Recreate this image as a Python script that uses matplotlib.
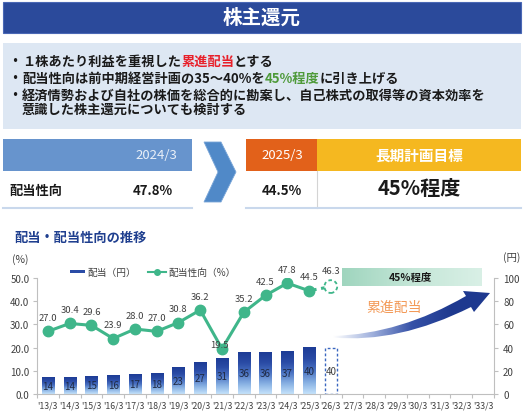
import matplotlib
matplotlib.use('Agg')
import matplotlib.pyplot as plt
import numpy as np
from matplotlib.patches import Rectangle, Polygon, PathPatch
from matplotlib.path import Path
from matplotlib.colors import LinearSegmentedColormap

plt.rcParams['font.family'] = ['Noto Sans CJK JP', 'DejaVu Sans']

# ---------------- data ----------------
years = ["'13/3", "'14/3", "'15/3", "'16/3", "'17/3", "'18/3", "'19/3", "'20/3",
         "'21/3", "'22/3", "'23/3", "'24/3", "'25/3", "'26/3", "'27/3", "'28/3",
         "'29/3", "'30/3", "'31/3", "'32/3", "'33/3"]
dividends = [14, 14, 15, 16, 17, 18, 23, 27, 31, 36, 36, 37, 40]
dividend_forecast = 40
payout = [27.0, 30.4, 29.6, 23.9, 28.0, 27.0, 30.8, 36.2, 19.5, 35.2, 42.5, 47.8, 44.5]
payout_forecast = 46.3
left_ticks = [0, 10, 20, 30, 40, 50]
right_ticks = [0, 20, 40, 60, 80, 100]

W, H = 525, 414
fig = plt.figure(figsize=(W / 100, H / 100), dpi=100)
bg = fig.add_axes([0, 0, 1, 1])
bg.set_xlim(0, W)
bg.set_ylim(H, 0)
bg.axis('off')
bg.set_zorder(0)

TXT = '#1a1a1a'
GREEN = '#3fb68a'

# title bar
bg.add_patch(Rectangle((3, 3), 518, 31, facecolor='#2b4a9b', edgecolor='#4a68b5', lw=0.8))
bg.text(262, 18.5, '株主還元', color='white', fontsize=14, fontweight='bold',
        ha='center', va='center')

# bullet box
bg.add_patch(Rectangle((3, 44), 518, 86, facecolor='#dde7f3', edgecolor='none'))

renderer = fig.canvas.get_renderer()


def seg_text(x, y, parts, size=9.5, weight='bold'):
    for s, c in parts:
        t = bg.text(x, y, s, color=c, fontsize=size, fontweight=weight,
                    ha='left', va='center')
        bb = t.get_window_extent(renderer=renderer)
        x += bb.width


bullet_lines = [
    (62, [('１株あたり利益を重視した', TXT), ('累進配当', '#e8202a'), ('とする', TXT)], True),
    (79, [('配当性向は前中期経営計画の35～40%を', TXT), ('45%程度', '#4e9a3a'),
          ('に引き上げる', TXT)], True),
    (96, [('経済情勢および自社の株価を総合的に勘案し、自己株式の取得等の資本効率を', TXT)], True),
    (110, [('意識した株主還元についても検討する', TXT)], False),
]
for y, parts, has_bullet in bullet_lines:
    if has_bullet:
        bg.text(8, y, '・', color=TXT, fontsize=9.5, fontweight='bold', ha='left', va='center')
    seg_text(22, y, parts)

# second row
bg.add_patch(Rectangle((3, 140), 189, 32, facecolor='#6794cd', edgecolor='none'))
bg.text(177, 156, '2024/3', color='#e8eff8', fontsize=9.5, ha='right', va='center')
bg.text(9, 191, '配当性向', color=TXT, fontsize=9.5, fontweight='bold', ha='left', va='center')
bg.text(173, 191, '47.8%', color=TXT, fontsize=9.5, fontweight='bold', ha='right', va='center')
bg.plot([3, 192], [209, 209], color='#c9d8ec', lw=1.5)

bg.add_patch(Polygon([(204, 143), (221, 143), (236, 173), (221, 203), (204, 203), (218, 173)],
                     closed=True, facecolor='#5089c8', edgecolor='#7aa6d8', lw=0.6))

bg.add_patch(Rectangle((246, 140), 71, 32, facecolor='#e2611a', edgecolor='none'))
bg.add_patch(Rectangle((317, 140), 204, 32, facecolor='#f5b820', edgecolor='none'))
bg.text(282, 156, '2025/3', color='white', fontsize=9.5, ha='center', va='center')
bg.text(419, 156, '長期計画目標', color='white', fontsize=10.5, fontweight='bold',
        ha='center', va='center')
bg.text(282, 191, '44.5%', color=TXT, fontsize=9.5, fontweight='bold', ha='center', va='center')
bg.text(419, 189, '45%程度', color=TXT, fontsize=14.5, fontweight='bold', ha='center', va='center')
bg.plot([317, 317], [172, 209], color='#d4d4d4', lw=0.8)
bg.plot([246, 521], [209, 209], color='#c9d8ec', lw=1.5)

# chart subtitle
bg.text(14, 238, '配当・配当性向の推移', color='#1f3f8f', fontsize=9.5, fontweight='bold',
        ha='left', va='center')
bg.text(12, 260, '(%)', color='#404040', fontsize=7.5, ha='left', va='center')
bg.text(503, 258, '(円)', color='#404040', fontsize=7.5, ha='left', va='center')

# legend
bg.add_patch(Rectangle((70, 271), 15, 3.2, facecolor='#2a4ca6', edgecolor='none'))
bg.text(87, 272.5, '配当（円）', color='#404040', fontsize=7, ha='left', va='center')
bg.plot([148, 166], [272.5, 272.5], color=GREEN, lw=1.5)
bg.plot([157], [272.5], marker='o', ms=4, color=GREEN)
bg.text(168, 272.5, '配当性向（%）', color='#404040', fontsize=7, ha='left', va='center')

# 45% band
band_cmap = LinearSegmentedColormap.from_list('band', ['#9fd5be', '#c4e6d7', '#d9f0e6'])
bg.imshow(np.linspace(0, 1, 256).reshape(1, -1), extent=[342, 482, 287, 269],
          cmap=band_cmap, aspect='auto', zorder=1)
bg.text(410, 278, '45%程度', color=TXT, fontsize=7.5, fontweight='bold', ha='center',
        va='center', zorder=2)

# growth arrow
tail_u, ctrl_u, junc_u = (333, 337), (400.5, 335), (466, 297)
tail_l, ctrl_l, junc_l = (333, 338.5), (398, 344.5), (471, 308)
verts = [tail_u, ctrl_u, junc_u, (463, 292), (490, 294), (474, 313), junc_l, ctrl_l, tail_l, tail_u]
codes = [Path.MOVETO, Path.CURVE3, Path.CURVE3, Path.LINETO, Path.LINETO, Path.LINETO,
         Path.LINETO, Path.CURVE3, Path.CURVE3, Path.CLOSEPOLY]
arrow_patch = PathPatch(Path(verts, codes), facecolor='none', edgecolor='none')
bg.add_patch(arrow_patch)
arrow_cmap = LinearSegmentedColormap.from_list('arr', ['#ffffff', '#9fb0dc', '#3652a8', '#1f3a8f', '#1e3990'])
im = bg.imshow(np.linspace(0, 1, 256).reshape(1, -1), extent=[333, 490, 345, 288],
               cmap=arrow_cmap, aspect='auto', zorder=1)
im.set_clip_path(arrow_patch)
bg.text(394, 308, '累進配当', color='#f39a58', fontsize=10, ha='center', va='center')

bg.set_xlim(0, W)
bg.set_ylim(H, 0)

# ---------------- chart ----------------
ax = fig.add_axes([37 / W, (H - 395) / H, 457 / W, 116 / H])
ax2 = ax.twinx()
ax.set_zorder(3)
ax2.set_zorder(2)
ax.patch.set_visible(False)
ax2.patch.set_visible(False)

n = len(years)
x_all = np.arange(n)
bw = 0.56
bar_cmap = LinearSegmentedColormap.from_list(
    'bar', ['#c4e2fb', '#86afe2', '#4a72c2', '#2a4ba5', '#1d3c96'])
grad = np.linspace(0, 1, 128).reshape(-1, 1)
for i, v in enumerate(dividends):
    ax2.imshow(grad, extent=[i - bw / 2, i + bw / 2, 0, v], origin='lower', cmap=bar_cmap,
               aspect='auto', zorder=1, interpolation='bilinear')
    ax2.text(i, v / 2, str(v), ha='center', va='center', fontsize=7, color='#1f2a44', zorder=3)
fi = len(dividends)
ax2.bar(fi, dividend_forecast, width=bw, fill=False, edgecolor='#3a66c0',
        linestyle=(0, (2, 1.6)), linewidth=1.0, zorder=2)
ax2.text(fi, dividend_forecast / 2, str(dividend_forecast), ha='center', va='center',
         fontsize=7, color='#404040', zorder=3)

xp = np.arange(len(payout))
ax.plot(xp, payout, color=GREEN, lw=2.2, marker='o', ms=7.5, zorder=4)
ax.plot([xp[-1], fi], [payout[-1], payout_forecast], color=GREEN, lw=2.2,
        linestyle=(0, (2.5, 1.5)), zorder=3)
ax.scatter([fi], [payout_forecast], s=85, facecolor='white', edgecolor=GREEN,
           linewidths=1.3, linestyle=(0, (2, 1.5)), zorder=5, clip_on=False)

label_offsets = {8: (-2, 3)}
for i, v in enumerate(payout + [payout_forecast]):
    dx, dy = label_offsets.get(i, (0, 10 if i < len(payout) else 11.5))
    ax.annotate(f'{v:.1f}', (i, v), xytext=(dx, dy), textcoords='offset points',
                ha='center', va='center', fontsize=6.8, color='#404040',
                annotation_clip=False, zorder=6)

ax.set_xlim(-0.5, n - 0.5)
ax.set_ylim(0, 50)
ax2.set_ylim(0, 100)
ax2.set_xlim(-0.5, n - 0.5)

ax.set_xticks(x_all)
ax.set_xticklabels(years)
ax.set_xticks(np.arange(-0.5, n, 1), minor=True)
ax.tick_params(axis='x', which='major', length=0, pad=5, labelsize=6.3, labelcolor='#404040')
ax.tick_params(axis='x', which='minor', length=3, color='#bfbfbf', width=0.8)
ax.set_yticks(left_ticks)
ax.set_yticklabels([f'{t:.1f}' for t in left_ticks])
ax.tick_params(axis='y', length=3, color='#bfbfbf', width=0.8, pad=2.5,
               labelsize=7, labelcolor='#404040')
ax2.set_yticks(right_ticks)
ax2.set_yticklabels([str(t) for t in right_ticks])
ax2.tick_params(axis='y', length=3, color='#bfbfbf', width=0.8, pad=3.5,
                labelsize=7, labelcolor='#404040')

for s in ['top', 'right']:
    ax.spines[s].set_visible(False)
for s in ['left', 'bottom']:
    ax.spines[s].set_color('#bfbfbf')
    ax.spines[s].set_linewidth(0.8)
for s in ['top', 'left', 'bottom']:
    ax2.spines[s].set_visible(False)
ax2.spines['right'].set_color('#bfbfbf')
ax2.spines['right'].set_linewidth(0.8)

fig.savefig('out.png', dpi=100)
